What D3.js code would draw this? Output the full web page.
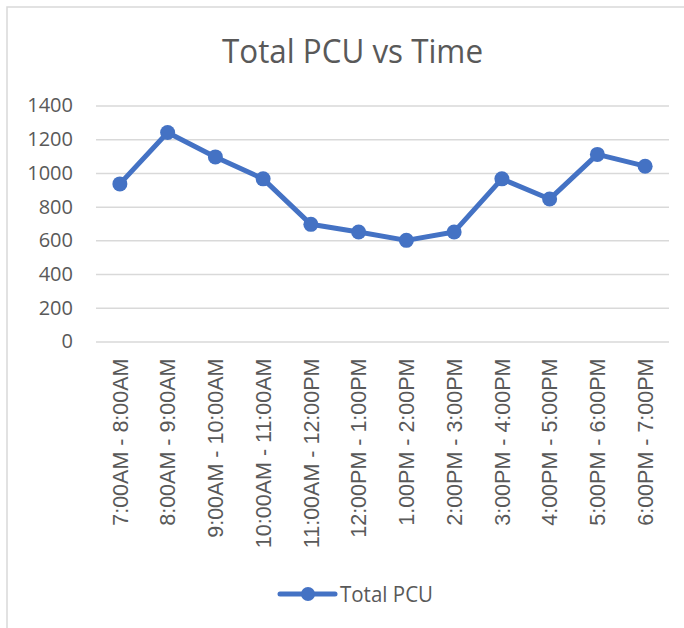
<!DOCTYPE html>
<html lang="en">
<head>
    <meta charset="UTF-8"/>
    <title>Total PCU vs Time</title>
    <script src="https://d3js.org/d3.v7.min.js"></script>
    <style>
        body { margin: 0; background: #fff; }
    </style>
</head>
<body>
<div id="chart"></div>
<script>
    var width = 684;
    var height = 628;

    var timeSlots = [
        "7:00AM - 8:00AM", "8:00AM - 9:00AM", "9:00AM - 10:00AM", "10:00AM - 11:00AM",
        "11:00AM - 12:00PM", "12:00PM - 1:00PM", "1.00PM - 2:00PM", "2:00PM - 3:00PM",
        "3:00PM - 4:00PM", "4:00PM - 5:00PM", "5:00PM - 6:00PM", "6:00PM - 7:00PM"
    ];
    var totalPcu = [935, 1240, 1095, 965, 695, 650, 600, 650, 965, 845, 1110, 1040];
    var yTicks = [0, 200, 400, 600, 800, 1000, 1200, 1400];

    var blue = "#4472C4";
    var grey = "#595959";

    var svg = d3.select("#chart").append("svg")
        .attr("width", width).attr("height", height);

    // chart area border (right and bottom edge fall outside the picture)
    svg.append("rect")
        .attr("x", 7).attr("y", 7)
        .attr("width", width + 20).attr("height", height + 20)
        .attr("fill", "white").attr("stroke", "#d9d9d9").attr("stroke-width", 1.5);

    var xScale = d3.scaleBand().domain(timeSlots).range([96, 669]);
    var yScale = d3.scaleLinear().domain([0, 1400]).range([341.5, 105.5]);

    // title
    svg.append("text")
        .attr("x", 352.5).attr("y", 63)
        .attr("text-anchor", "middle")
        .attr("font-family", "Open Sans")
        .attr("font-size", 33)
        .attr("fill", grey)
        .attr("textLength", 261)
        .attr("lengthAdjust", "spacingAndGlyphs")
        .text("Total PCU vs Time");

    // horizontal gridlines + y labels (no thousands separator)
    var yAxis = d3.axisLeft(yScale).tickValues(yTicks).tickFormat(d3.format("d"))
        .tickSize(-(669 - 96)).tickPadding(23);
    var gy = svg.append("g").attr("transform", "translate(96,0)").call(yAxis);
    gy.select(".domain").remove();
    gy.selectAll(".tick line").attr("stroke", "#d9d9d9").attr("stroke-width", 1.5);
    gy.selectAll(".tick text")
        .attr("font-family", "Open Sans").attr("font-size", 20)
        .attr("fill", grey);

    // x labels, rotated
    var xAxis = d3.axisBottom(xScale).tickSize(0);
    var gx = svg.append("g").attr("transform", "translate(0,341.5)").call(xAxis);
    gx.select(".domain").remove();
    gx.selectAll(".tick text")
        .attr("font-family", "Liberation Sans").attr("font-size", 21.5)
        .attr("fill", grey)
        .attr("text-anchor", "end")
        .attr("transform", "rotate(-90)")
        .attr("x", -17).attr("y", 0).attr("dy", "0.36em");

    // the line
    var line = d3.line()
        .x(function (d, i) { return xScale(timeSlots[i]) + xScale.bandwidth() / 2; })
        .y(function (d) { return yScale(d); });

    svg.append("path").datum(totalPcu)
        .attr("d", line)
        .attr("fill", "none").attr("stroke", blue)
        .attr("stroke-width", 5).attr("stroke-linejoin", "round");

    svg.selectAll("circle.pt").data(totalPcu).enter()
        .append("circle").attr("class", "pt")
        .attr("cx", function (d, i) { return xScale(timeSlots[i]) + xScale.bandwidth() / 2; })
        .attr("cy", function (d) { return yScale(d); })
        .attr("r", 7.5)
        .attr("fill", blue);

    // legend
    var lg = svg.append("g");
    lg.append("line")
        .attr("x1", 280).attr("x2", 335).attr("y1", 594).attr("y2", 594)
        .attr("stroke", blue).attr("stroke-width", 5).attr("stroke-linecap", "round");
    lg.append("circle").attr("cx", 308).attr("cy", 594).attr("r", 7).attr("fill", blue);
    lg.append("text")
        .attr("x", 340).attr("y", 602)
        .attr("font-family", "Open Sans").attr("font-size", 21)
        .attr("fill", grey)
        .attr("textLength", 93)
        .attr("lengthAdjust", "spacingAndGlyphs")
        .text("Total PCU");
</script>
</body>
</html>
